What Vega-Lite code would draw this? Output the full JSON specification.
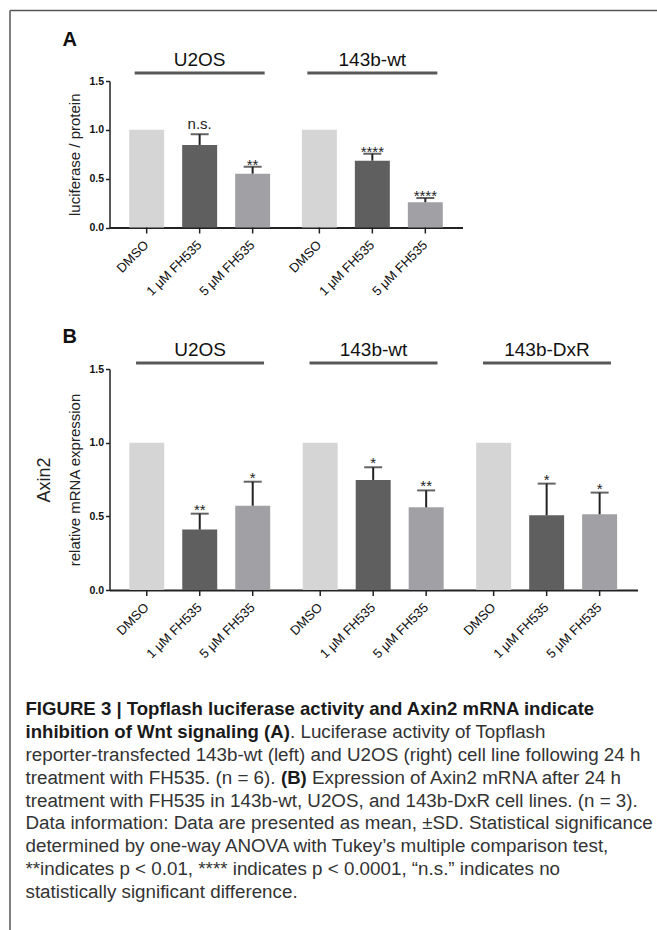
{
  "$schema": "https://vega.github.io/schema/vega-lite/v6.json",
  "padding": {"left": 6.5, "top": 7, "right": 0, "bottom": 0},
  "datasets": {
    "a": [
      {"group": "U2OS", "treatment": "DMSO", "mean": 1.0},
      {"group": "U2OS", "treatment": "1 μM FH535", "mean": 0.845, "upper": 0.955, "sig": "n.s."},
      {"group": "U2OS", "treatment": "5 μM FH535", "mean": 0.551, "upper": 0.622, "sig": "**"},
      {"group": "143b-wt", "treatment": "DMSO", "mean": 1.0},
      {"group": "143b-wt", "treatment": "1 μM FH535", "mean": 0.684, "upper": 0.755, "sig": "****"},
      {"group": "143b-wt", "treatment": "5 μM FH535", "mean": 0.259, "upper": 0.302, "sig": "****"}
    ],
    "b": [
      {"group": "U2OS", "treatment": "DMSO", "mean": 1.0},
      {"group": "U2OS", "treatment": "1 μM FH535", "mean": 0.41, "upper": 0.518, "sig": "**"},
      {"group": "U2OS", "treatment": "5 μM FH535", "mean": 0.572, "upper": 0.735, "sig": "*"},
      {"group": "143b-wt", "treatment": "DMSO", "mean": 1.0},
      {"group": "143b-wt", "treatment": "1 μM FH535", "mean": 0.747, "upper": 0.833, "sig": "*"},
      {"group": "143b-wt", "treatment": "5 μM FH535", "mean": 0.561, "upper": 0.676, "sig": "**"},
      {"group": "143b-DxR", "treatment": "DMSO", "mean": 1.0},
      {"group": "143b-DxR", "treatment": "1 μM FH535", "mean": 0.507, "upper": 0.722, "sig": "*"},
      {"group": "143b-DxR", "treatment": "5 μM FH535", "mean": 0.514, "upper": 0.661, "sig": "*"}
    ],
    "cap": [
      {"line": 1, "seg": "b0", "text": "FIGURE 3 | Topflash luciferase activity and Axin2 mRNA indicate"},
      {"line": 2, "seg": "b0", "text": "inhibition of Wnt signaling (A)"},
      {"line": 2, "seg": "n2", "text": ". Luciferase activity of Topflash"},
      {"line": 3, "seg": "n0", "text": "reporter-transfected 143b-wt (left) and U2OS (right) cell line following 24 h"},
      {"line": 4, "seg": "n0", "text": "treatment with FH535. (n = 6)."},
      {"line": 4, "seg": "b4", "text": "(B)"},
      {"line": 4, "seg": "n4", "text": "Expression of Axin2 mRNA after 24 h"},
      {"line": 5, "seg": "n0", "text": "treatment with FH535 in 143b-wt, U2OS, and 143b-DxR cell lines. (n = 3)."},
      {"line": 6, "seg": "n0", "text": "Data information: Data are presented as mean, ±SD. Statistical significance"},
      {"line": 7, "seg": "n0", "text": "determined by one-way ANOVA with Tukey’s multiple comparison test,"},
      {"line": 8, "seg": "n0", "text": "**indicates p < 0.01, **** indicates p < 0.0001, “n.s.” indicates no"},
      {"line": 9, "seg": "n0", "text": "statistically significant difference."}
    ]
  },
  "config": {
    "view": {"stroke": null},
    "font": "Liberation Sans",
    "text": {"font": "Liberation Sans", "color": "#222"},
    "axis": {"grid": false, "labelFont": "Liberation Sans", "titleFont": "Liberation Sans"}
  },
  "bounds": "flush",
  "spacing": 0,
  "vconcat": [
    {"width": 1, "height": 73.4, "data": {"values": []}, "mark": "point"},
    {
      "width": 353, "height": 146.5,
      "title": {"text": "A", "anchor": "start", "frame": "group", "fontSize": 20, "fontWeight": "bold", "dx": -47, "offset": -15.8, "baseline": "alphabetic", "color": "#111", "font": "Liberation Sans"},
      "data": {"name": "a"},
      "encoding": {
        "x": {"field": "group", "type": "nominal", "sort": ["U2OS", "143b-wt"], "scale": {"paddingInner": 0.184, "paddingOuter": 0.114}, "axis": {"title": null, "labels": false, "ticks": false, "domainColor": "#222", "domainWidth": 1.8}}
      },
      "layer": [
        {
          "mark": {"type": "bar"},
          "encoding": {
            "xOffset": {"field": "treatment", "type": "nominal", "sort": ["DMSO", "1 μM FH535", "5 μM FH535"], "scale": {"paddingInner": 0.34, "paddingOuter": 0}},
            "y": {"field": "mean", "type": "quantitative", "scale": {"domain": [0, 1.5], "nice": false}, "axis": {"title": "luciferase / protein", "values": [0, 0.5, 1, 1.5], "format": ".1f", "tickSize": 4, "tickWidth": 1.5, "tickColor": "#222", "domainColor": "#222", "domainWidth": 1.5, "labelFontWeight": "bold", "labelFontSize": 10.5, "labelColor": "#111", "labelPadding": 2, "titleFontSize": 15, "titleFontWeight": "normal", "titleColor": "#222", "titlePadding": 6}},
            "color": {"field": "treatment", "type": "nominal", "scale": {"domain": ["DMSO", "1 μM FH535", "5 μM FH535"], "range": ["#d5d5d5", "#5f5f5f", "#a1a1a5"]}, "legend": null}
          }
        },
        {
          "transform": [{"filter": "isValid(datum.upper)"}],
          "mark": {"type": "rule", "strokeWidth": 2, "color": "#222"},
          "encoding": {
            "xOffset": {"field": "treatment", "type": "nominal", "sort": ["DMSO", "1 μM FH535", "5 μM FH535"]},
            "y": {"field": "mean", "type": "quantitative"},
            "y2": {"field": "upper"}
          }
        },
        {
          "transform": [{"filter": "isValid(datum.upper)"}],
          "mark": {"type": "tick", "size": 18, "thickness": 2, "color": "#222"},
          "encoding": {
            "xOffset": {"field": "treatment", "type": "nominal", "sort": ["DMSO", "1 μM FH535", "5 μM FH535"]},
            "y": {"field": "upper", "type": "quantitative"}
          }
        },
        {
          "transform": [{"filter": "datum.sig == 'n.s.'"}],
          "mark": {"type": "text", "fontSize": 15, "dy": -5, "baseline": "alphabetic", "color": "#222"},
          "encoding": {
            "xOffset": {"field": "treatment", "type": "nominal", "sort": ["DMSO", "1 μM FH535", "5 μM FH535"]},
            "y": {"field": "upper", "type": "quantitative"},
            "text": {"field": "sig"}
          }
        },
        {
          "transform": [{"filter": "isValid(datum.sig) && datum.sig != 'n.s.'"}],
          "mark": {"type": "text", "fontSize": 15, "dy": 3, "baseline": "alphabetic", "color": "#222"},
          "encoding": {
            "xOffset": {"field": "treatment", "type": "nominal", "sort": ["DMSO", "1 μM FH535", "5 μM FH535"]},
            "y": {"field": "upper", "type": "quantitative"},
            "text": {"field": "sig"}
          }
        },
        {
          "transform": [{"filter": "datum.treatment == 'DMSO'"}],
          "mark": {"type": "tick", "size": 130, "thickness": 3, "color": "#111", "yOffset": -8},
          "encoding": {"y": {"datum": 1.5, "type": "quantitative"}}
        },
        {
          "transform": [{"filter": "datum.treatment == 'DMSO'"}],
          "mark": {"type": "text", "fontSize": 19, "baseline": "alphabetic", "yOffset": -15.5, "color": "#111"},
          "encoding": {"y": {"datum": 1.5, "type": "quantitative"}, "text": {"field": "group"}}
        },
        {
          "mark": {"type": "rule", "strokeWidth": 1.5, "color": "#222", "y2Offset": 6},
          "encoding": {
            "xOffset": {"field": "treatment", "type": "nominal", "sort": ["DMSO", "1 μM FH535", "5 μM FH535"]},
            "y": {"datum": 0, "type": "quantitative"},
            "y2": {"datum": 0}
          }
        },
        {
          "mark": {"type": "text", "fontSize": 13, "angle": -45, "align": "right", "baseline": "middle", "yOffset": 15.5, "color": "#111"},
          "encoding": {
            "xOffset": {"field": "treatment", "type": "nominal", "sort": ["DMSO", "1 μM FH535", "5 μM FH535"]},
            "y": {"datum": 0, "type": "quantitative"},
            "text": {"field": "treatment"}
          }
        }
      ]
    },
    {"width": 1, "height": 140.6, "data": {"values": []}, "mark": "point"},
    {
      "width": 528, "height": 221,
      "title": {"text": "B", "anchor": "start", "frame": "group", "fontSize": 20, "fontWeight": "bold", "dx": -47, "offset": -22.4, "baseline": "alphabetic", "color": "#111", "font": "Liberation Sans"},
      "data": {"name": "b"},
      "resolve": {"scale": {"y": "independent"}, "axis": {"y": "independent"}},
      "layer": [
        {
          "encoding": {
            "x": {"field": "group", "type": "nominal", "sort": ["U2OS", "143b-wt", "143b-DxR"], "scale": {"paddingInner": 0.184, "paddingOuter": 0.114}, "axis": {"title": null, "labels": false, "ticks": false, "domainColor": "#222", "domainWidth": 1.8}}
          },
          "layer": [
            {
              "mark": {"type": "bar"},
              "encoding": {
                "xOffset": {"field": "treatment", "type": "nominal", "sort": ["DMSO", "1 μM FH535", "5 μM FH535"], "scale": {"paddingInner": 0.34, "paddingOuter": 0}},
                "y": {"field": "mean", "type": "quantitative", "scale": {"domain": [0, 1.5], "nice": false}, "axis": {"title": "relative mRNA expression", "values": [0, 0.5, 1, 1.5], "format": ".1f", "tickSize": 4, "tickWidth": 1.5, "tickColor": "#222", "domainColor": "#222", "domainWidth": 1.5, "labelFontWeight": "bold", "labelFontSize": 10.5, "labelColor": "#111", "labelPadding": 2, "titleFontSize": 15, "titleFontWeight": "normal", "titleColor": "#222", "titlePadding": 6}},
                "color": {"field": "treatment", "type": "nominal", "scale": {"domain": ["DMSO", "1 μM FH535", "5 μM FH535"], "range": ["#d5d5d5", "#5f5f5f", "#a1a1a5"]}, "legend": null}
              }
            },
            {
              "transform": [{"filter": "isValid(datum.upper)"}],
              "mark": {"type": "rule", "strokeWidth": 2, "color": "#222"},
              "encoding": {
                "xOffset": {"field": "treatment", "type": "nominal", "sort": ["DMSO", "1 μM FH535", "5 μM FH535"]},
                "y": {"field": "mean", "type": "quantitative"},
                "y2": {"field": "upper"}
              }
            },
            {
              "transform": [{"filter": "isValid(datum.upper)"}],
              "mark": {"type": "tick", "size": 18, "thickness": 2, "color": "#222"},
              "encoding": {
                "xOffset": {"field": "treatment", "type": "nominal", "sort": ["DMSO", "1 μM FH535", "5 μM FH535"]},
                "y": {"field": "upper", "type": "quantitative"}
              }
            },
            {
              "transform": [{"filter": "isValid(datum.sig)"}],
              "mark": {"type": "text", "fontSize": 15, "dy": 1, "baseline": "alphabetic", "color": "#222"},
              "encoding": {
                "xOffset": {"field": "treatment", "type": "nominal", "sort": ["DMSO", "1 μM FH535", "5 μM FH535"]},
                "y": {"field": "upper", "type": "quantitative"},
                "text": {"field": "sig"}
              }
            },
            {
              "transform": [{"filter": "datum.treatment == 'DMSO'"}],
              "mark": {"type": "text", "fontSize": 19, "baseline": "alphabetic", "yOffset": -13.3, "color": "#111"},
              "encoding": {"y": {"datum": 1.5, "type": "quantitative"}, "text": {"field": "group"}}
            },
            {
              "mark": {"type": "rule", "strokeWidth": 1.5, "color": "#222", "y2Offset": 6},
              "encoding": {
                "xOffset": {"field": "treatment", "type": "nominal", "sort": ["DMSO", "1 μM FH535", "5 μM FH535"]},
                "y": {"datum": 0, "type": "quantitative"},
                "y2": {"datum": 0}
              }
            },
            {
              "mark": {"type": "text", "fontSize": 13, "angle": -45, "align": "right", "baseline": "middle", "yOffset": 15.5, "color": "#111"},
              "encoding": {
                "xOffset": {"field": "treatment", "type": "nominal", "sort": ["DMSO", "1 μM FH535", "5 μM FH535"]},
                "y": {"datum": 0, "type": "quantitative"},
                "text": {"field": "treatment"}
              }
            }
          ]
        },
        {
          "transform": [{"filter": "datum.treatment == 'DMSO'"}],
          "mark": {"type": "tick", "size": 128, "thickness": 3, "color": "#111", "yOffset": -6},
          "encoding": {
            "x": {"field": "group", "type": "nominal", "sort": ["U2OS", "143b-wt", "143b-DxR"], "axis": {"title": null, "labels": false, "ticks": false, "domainColor": "#222", "domainWidth": 1.8}},
            "y": {"datum": 1.5, "type": "quantitative", "scale": {"domain": [0, 1.5], "nice": false}, "axis": {"title": "Axin2", "orient": "left", "domain": false, "ticks": false, "labels": false, "grid": false, "titleFontSize": 18, "titleFontWeight": "normal", "titleColor": "#222", "titlePadding": 56}}
          }
        }
      ]
    },
    {"width": 1, "height": 107.3, "data": {"values": []}, "mark": "point"},
    {
      "width": 530, "height": 205.2,
      "data": {"name": "cap"},
      "encoding": {
        "y": {"field": "line", "type": "ordinal", "axis": null},
        "x": {"datum": 0, "type": "quantitative", "scale": {"domain": [0, 1]}, "axis": null},
        "text": {"field": "text"}
      },
      "layer": [
        {"transform": [{"filter": "datum.seg == 'n0'"}], "mark": {"type": "text", "align": "left", "baseline": "alphabetic", "dx": -84, "dy": 6, "fontSize": 18.8, "color": "#333"}},
        {"transform": [{"filter": "datum.seg == 'b0'"}], "mark": {"type": "text", "align": "left", "baseline": "alphabetic", "dx": -84, "dy": 6, "fontSize": 18.6, "fontWeight": "bold", "color": "#1a1a1a"}},
        {"transform": [{"filter": "datum.seg == 'n2'"}], "mark": {"type": "text", "align": "left", "baseline": "alphabetic", "dx": 180.5, "dy": 6, "fontSize": 18.8, "color": "#333"}},
        {"transform": [{"filter": "datum.seg == 'b4'"}], "mark": {"type": "text", "align": "left", "baseline": "alphabetic", "dx": 171.5, "dy": 6, "fontSize": 18.6, "fontWeight": "bold", "color": "#1a1a1a"}},
        {"transform": [{"filter": "datum.seg == 'n4'"}], "mark": {"type": "text", "align": "left", "baseline": "alphabetic", "dx": 202.5, "dy": 6, "fontSize": 18.8, "color": "#333"}}
      ]
    },
    {
      "width": 1, "height": 0.5,
      "data": {"values": [{"v": 0}]},
      "mark": {"type": "point", "opacity": 0},
      "encoding": {
        "x": {"datum": 0, "type": "quantitative", "scale": {"domain": [0, 1], "range": [-100, 548]}, "axis": {"orient": "top", "offset": 894, "domain": true, "domainColor": "#555", "domainWidth": 1.5, "ticks": false, "labels": false, "title": null, "grid": false}},
        "y": {"datum": 0, "type": "quantitative", "scale": {"domain": [0, 1], "range": [26, -894]}, "axis": {"orient": "left", "offset": 100, "domain": true, "domainColor": "#555", "domainWidth": 1.5, "ticks": false, "labels": false, "title": null, "grid": false}}
      }
    }
  ]
}
